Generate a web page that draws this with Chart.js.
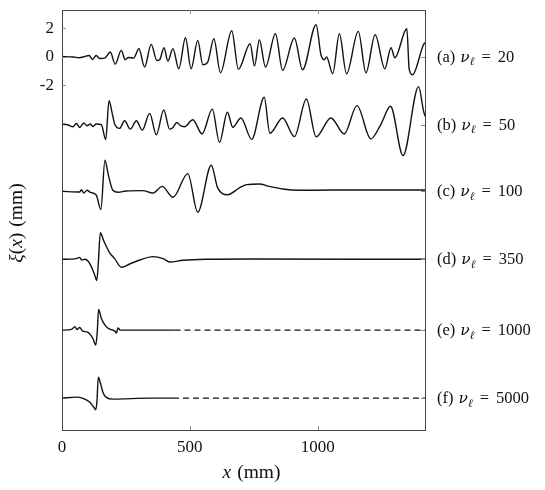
<!DOCTYPE html>
<html>
<head>
<meta charset="utf-8">
<script src="https://cdn.jsdelivr.net/npm/chart.js@4.4.1/dist/chart.umd.min.js"></script>
<style>
  html, body { margin: 0; padding: 0; background: #fff; }
  #wrap { width: 545px; height: 490px; }
</style>
</head>
<body>
<div id="wrap"><canvas id="chart" width="545" height="490"></canvas></div>
<script>
// ---- values ----
const letters = ['a', 'b', 'c', 'd', 'e', 'f'];
const nuValues = [20, 50, 100, 350, 1000, 5000];
const offsets = [0, -4.8, -9.5, -14.3, -19.3, -24.1];   // vertical shift of each trace
const leftTicks = [2, 0, -2];
const xTicks = [0, 500, 1000];
const xMax = 1420;
const yMin = -26.35, yMax = 3.3;

// (a) nu = 20
const xA = [0, 43, 69, 82, 106, 119, 134, 147, 167, 189, 208, 232, 247, 260, 280, 301, 323, 349, 371, 382,
  399, 414, 434, 457, 483, 505, 531, 551, 570, 594, 620, 664, 690, 736, 753, 772, 796, 835, 863, 909,
  941, 994, 1013, 1026, 1035, 1059, 1085, 1113, 1159, 1189, 1225, 1263, 1287, 1302, 1349, 1358, 1371, 1414, 1420];
const yA = [0.02, -0.02, -0.07, -0.02, 0.09, -0.19, 0.09, -0.12, -0.1, 0.33, -0.52, 0.45, -0.21, -0.05, -0.1, 0.56, -0.73, 0.87, -0.26, -0.21,
  0.64, -0.31, 0.56, -0.85, 1.34, -0.85, 1.15, -0.56, -0.38, 1.27, -1.13, 1.84, -0.89, 0.92, -0.66, 1.2, -0.73, 1.62, -0.96, 1.32,
  -0.92, 2.26, 0.14, -0.21, -0.02, -1.2, 1.62, -1.2, 1.79, -1.13, 1.55, -0.85, 0.64, -0.07, 1.98, -0.85, -1.27, 0.85, 1.0];

// (b) nu = 50
const xB = [0, 24, 43, 56, 69, 85, 98, 111, 121, 134, 154, 171, 184, 197, 206, 225, 245, 267, 291, 314,
  343, 369, 398, 421, 434, 449, 463, 479, 512, 548, 588, 616, 647, 668, 700, 742, 791, 813, 863, 909,
  956, 994, 1052, 1104, 1154, 1208, 1248, 1285, 1334, 1395, 1414, 1420];
const yB = [0.05, -0.02, -0.14, 0.09, -0.19, 0.12, -0.07, 0.05, -0.12, 0.05, 0.0, -1.04, 1.69, 0.75, 0.05, -0.26, 0.28, -0.31, 0.28, -0.38,
  0.8, -0.71, 1.04, -0.31, -0.19, 0.16, -0.07, -0.14, 0.35, -0.65, 1.1, -1.24, 0.88, -0.18, 0.48, -1.03, 1.94, -0.6, 0.48, -0.84,
  1.82, -0.86, 0.48, -0.65, 1.35, -1.0, 0.05, 1.3, -2.18, 2.69, 1.0, 0.6];

// (c) nu = 100
const xC = [0, 69, 76, 85, 98, 111, 134, 152, 168, 181, 199, 219, 251, 316, 356, 392, 434, 492, 531, 584,
  609, 648, 694, 722, 772, 811, 863, 929, 1059, 1420];
const yC = [0, -0.05, 0.12, -0.12, 0.07, -0.07, -0.26, -1.29, 2.19, 1.18, 0.07, -0.07, 0.02, 0.05, -0.12, 0.35, -0.42, 1.25, -1.48, 1.84,
  0.24, -0.24, 0.24, 0.47, 0.52, 0.35, 0.16, 0.07, 0.09, 0.09];

// (d) nu = 350
const xD = [0, 56, 69, 77, 90, 108, 128, 136, 142, 150, 163, 186, 206, 232, 265, 304, 356, 395, 421, 473,
  564, 733, 1420];
const yD = [0, 0.05, 0.14, -0.05, 0, -0.28, -1.1, -1.5, -0.28, 1.88, 1.32, 0.47, 0.05, -0.56, -0.33, -0.05, 0.19, 0.05, -0.19, -0.07,
  0, 0.02, 0];

// (e) nu = 1000, measured up to x = 440
const xE = [0, 37, 50, 59, 69, 80, 102, 121, 132, 138, 143, 154, 171, 189, 206, 213, 219, 228, 440];
const yE = [0, 0.05, 0.24, 0.05, 0.19, -0.05, -0.16, -0.59, -1.06, -0.12, 1.46, 0.82, 0.28, 0.05, -0.05, -0.21, 0.16, 0, 0];

// (f) nu = 5000, measured up to x = 434
const xF = [0, 56, 82, 108, 124, 132, 137, 142, 150, 160, 173, 199, 343, 434];
const yF = [0, 0.07, -0.02, -0.28, -0.64, -0.82, -0.16, 1.48, 1.08, 0.42, 0.05, -0.07, 0, 0];

const traceX = [xA, xB, xC, xD, xE, xF];
const traceY = [yA, yB, yC, yD, yE, yF];

// ---- build datasets ----
const datasets = [];
traceX.forEach((xs, i) => {
  datasets.push({
    data: xs.map((x, j) => ({ x: x, y: traceY[i][j] + offsets[i] })),
    yAxisID: 'y'
  });
  // traces (e) and (f) continue as a dashed zero line
  if (i >= 4) {
    datasets.push({
      data: [{ x: xs[xs.length - 1], y: offsets[i] }, { x: xMax, y: offsets[i] }],
      yAxisID: 'y',
      borderDash: [6, 4],
      borderWidth: 1.2
    });
  }
});

const SERIF = "'Liberation Serif', 'DejaVu Serif', serif";
const GREEK = "'DejaVu Serif', serif";

function runFont(r, size) {
  return (r.it ? 'italic ' : '') + (r.size || size) + 'px ' + (r.fam || SERIF);
}

// draw a line of mixed upright/italic text
function drawRuns(ctx, runs, x, y, size, align) {
  let w = 0;
  runs.forEach(r => {
    ctx.font = runFont(r, size);
    w += (r.pre || 0) + ctx.measureText(r.t).width;
  });
  let cx = align === 'center' ? x - w / 2 : x;
  ctx.textAlign = 'left';
  ctx.textBaseline = 'alphabetic';
  runs.forEach(r => {
    ctx.font = runFont(r, size);
    cx += r.pre || 0;
    ctx.fillText(r.t, cx, y + (r.dy || 0));
    cx += ctx.measureText(r.t).width;
  });
}

const decor = {
  id: 'decor',
  afterDraw(chart) {
    const { ctx, chartArea: a, scales } = chart;
    ctx.save();
    // frame
    ctx.strokeStyle = '#444';
    ctx.lineWidth = 1;
    ctx.strokeRect(a.left + 0.5, a.top + 0.5, a.right - a.left, a.bottom - a.top);

    // inward tick marks
    ctx.strokeStyle = '#888';
    ctx.beginPath();
    xTicks.forEach(v => {
      if (v === 0) return;
      const px = Math.round(scales.x.getPixelForValue(v)) + 0.5;
      ctx.moveTo(px, a.bottom); ctx.lineTo(px, a.bottom - 4);
      ctx.moveTo(px, a.top); ctx.lineTo(px, a.top + 4);
    });
    leftTicks.forEach(v => {
      const py = Math.round(scales.y.getPixelForValue(v)) + 0.5;
      ctx.moveTo(a.left, py); ctx.lineTo(a.left + 4, py);
    });
    offsets.forEach(v => {
      const py = Math.round(scales.y2.getPixelForValue(v)) + 0.5;
      ctx.moveTo(a.right, py); ctx.lineTo(a.right - 4, py);
    });
    ctx.stroke();

    // trace labels on the right
    ctx.fillStyle = '#111';
    offsets.forEach((v, i) => {
      const py = scales.y2.getPixelForValue(v);
      drawRuns(ctx, [
        { t: '(' + letters[i] + ')' },
        { t: 'ν', it: true, fam: GREEK, size: 15.5, pre: 5 },
        { t: 'ℓ', it: true, fam: GREEK, size: 11.5, dy: 3.5, pre: 0 },
        { t: '=', pre: 7 },
        { t: String(nuValues[i]), pre: 7 }
      ], a.right + 12, py + 5, 16.5, 'left');
    });

    // axis titles
    drawRuns(ctx, [{ t: 'x', it: true }, { t: '(mm)', pre: 6 }],
      (a.left + a.right) / 2 + 8, 478, 19.5, 'center');

    ctx.translate(22, (a.top + a.bottom) / 2 + 3);
    ctx.rotate(-Math.PI / 2);
    drawRuns(ctx, [
      { t: 'ξ', it: true }, { t: '(' }, { t: 'x', it: true }, { t: ')' }, { t: '(mm)', pre: 6 }
    ], 0, 0, 19.5, 'center');
    ctx.restore();
  }
};

Chart.defaults.font.family = SERIF;
Chart.defaults.font.size = 17;
Chart.defaults.color = '#111';

const noPad = s => { s.paddingTop = 0; s.paddingBottom = 0; };

new Chart(document.getElementById('chart'), {
  type: 'line',
  data: { datasets: datasets },
  options: {
    responsive: false,
    animation: false,
    layout: { padding: { top: 10, left: 0, right: 0, bottom: 0 } },
    plugins: { legend: { display: false }, tooltip: { enabled: false } },
    elements: {
      point: { radius: 0 },
      line: { borderWidth: 1.4, borderColor: '#111', cubicInterpolationMode: 'monotone', fill: false }
    },
    scales: {
      x: {
        type: 'linear', min: 0, max: xMax,
        afterBuildTicks: s => { s.ticks = xTicks.map(v => ({ value: v })); },
        afterFit: s => { s.height = 60; s.paddingLeft = 0; s.paddingRight = 0; },
        grid: { display: false, drawTicks: false },
        border: { display: false },
        ticks: { padding: 7, maxRotation: 0, callback: v => String(v) }
      },
      y: {
        position: 'left', min: yMin, max: yMax,
        afterBuildTicks: s => { s.ticks = leftTicks.map(v => ({ value: v })); },
        afterFit: s => { s.width = 62; noPad(s); },
        grid: { display: false, drawTicks: false },
        border: { display: false },
        ticks: { padding: 8, callback: v => String(v) }
      },
      y2: {
        position: 'right', min: yMin, max: yMax,
        afterBuildTicks: s => { s.ticks = offsets.map(v => ({ value: v })); },
        afterFit: s => { s.width = 120; noPad(s); },
        grid: { display: false, drawTicks: false },
        border: { display: false },
        ticks: { display: false }
      }
    }
  },
  plugins: [decor]
});
</script>
</body>
</html>
